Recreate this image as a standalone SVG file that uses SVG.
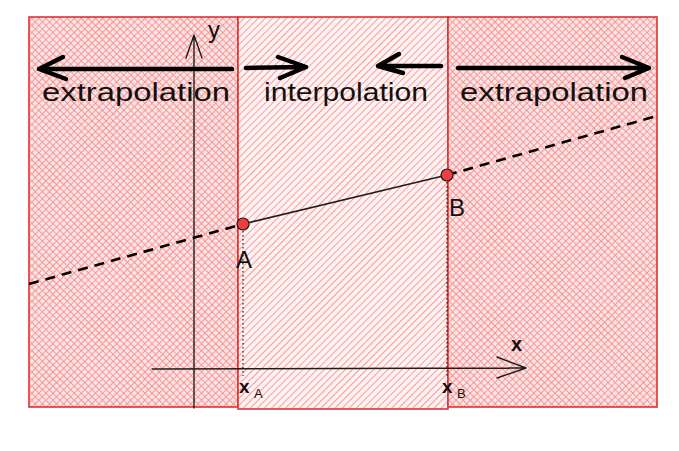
<svg xmlns="http://www.w3.org/2000/svg" width="679" height="451" viewBox="0 0 679 451">
<style>
.region{stroke:#e03131;stroke-width:1.6}
.arrow{fill:none;stroke:#000;stroke-width:4.5;stroke-linecap:round;stroke-linejoin:round}
.thin{fill:none;stroke:#1e1e1e;stroke-width:1.4;stroke-linecap:round;stroke-linejoin:round}
.lbl{font-family:"Liberation Sans",Arial,sans-serif;font-size:25px;fill:#111}
.sm{font-family:"Liberation Sans",Arial,sans-serif;fill:#111}
.pt{fill:#f03e3e;stroke:#1e1e1e;stroke-width:1.2}
</style>
<defs>
<pattern id="cross" patternUnits="userSpaceOnUse" width="5" height="5" patternTransform="rotate(45)">
<rect width="5" height="5" fill="#fde4e4"/>
<line x1="0" y1="0" x2="0" y2="5" stroke="#f58c8c" stroke-width="1.7"/>
<line x1="0" y1="0" x2="5" y2="0" stroke="#f58c8c" stroke-width="1.7"/>
</pattern>
<pattern id="hach" patternUnits="userSpaceOnUse" width="5" height="5" patternTransform="rotate(-45)">
<rect width="5" height="5" fill="#fff3f3"/>
<line x1="0" y1="0" x2="5" y2="0" stroke="#fa9a9a" stroke-width="2"/>
</pattern>
</defs>
<rect width="679" height="451" fill="#fff"/>
<g id="left-region"><rect class="region" x="29" y="17" width="209" height="390" fill="url(#cross)"/></g>
<g id="middle-region"><rect class="region" x="238" y="17" width="210" height="392" fill="url(#hach)"/></g>
<g id="right-region"><rect class="region" x="448" y="17" width="209" height="390" fill="url(#cross)"/></g>
<g id="connectors">
<path class="thin" d="M194 408 L194 35 M186 58 L194 35 L202 58"/>
<path class="thin" d="M152 369 L526 368 M497 357 L526 368 L497 378"/>
<path class="arrow" d="M232 69 L39 69 M63 57 L39 69 L66 79"/>
<path class="arrow" d="M246 68 L306 67 M278 57 L306 67 L280 78"/>
<path class="arrow" d="M441 66 L378 66 M399 54 L378 66 L403 73"/>
<path class="arrow" d="M458 68 L649 68 M622 57 L649 68 L625 78"/>
<path d="M29 284 L243 224" fill="none" stroke="#000" stroke-width="2.6" stroke-dasharray="10 7"/>
<path d="M447 175 L657 116" fill="none" stroke="#000" stroke-width="2.6" stroke-dasharray="10 7"/>
<path d="M243 224 L447 175" fill="none" stroke="#1e1e1e" stroke-width="1.6"/>
<path d="M243 231 L243 376 M447 182 L447 378" fill="none" stroke="#1e1e1e" stroke-width="1.2" stroke-dasharray="1.5 2.5"/>
</g>
<g id="point-A"><circle class="pt" cx="243" cy="224" r="6"/><text class="sm" x="236" y="268" font-size="24">A</text></g>
<g id="point-B"><circle class="pt" cx="447" cy="175" r="6"/><text class="sm" x="449" y="216" font-size="24">B</text></g>
<g id="labels">
<text class="lbl" x="42" y="101" textLength="188" lengthAdjust="spacingAndGlyphs">extrapolation</text>
<text class="lbl" x="264" y="101" textLength="164" lengthAdjust="spacingAndGlyphs">interpolation</text>
<text class="lbl" x="460" y="101" textLength="188" lengthAdjust="spacingAndGlyphs">extrapolation</text>
<text class="sm" x="208" y="38" font-size="24">y</text>
<text class="sm" x="511" y="351" font-size="20" font-weight="bold">x</text>
<text class="sm" x="239" y="393" font-size="19" font-weight="bold">x</text>
<text class="sm" x="254" y="398" font-size="13">A</text>
<text class="sm" x="442" y="393" font-size="19" font-weight="bold">x</text>
<text class="sm" x="457" y="398" font-size="13">B</text>
</g>
</svg>
